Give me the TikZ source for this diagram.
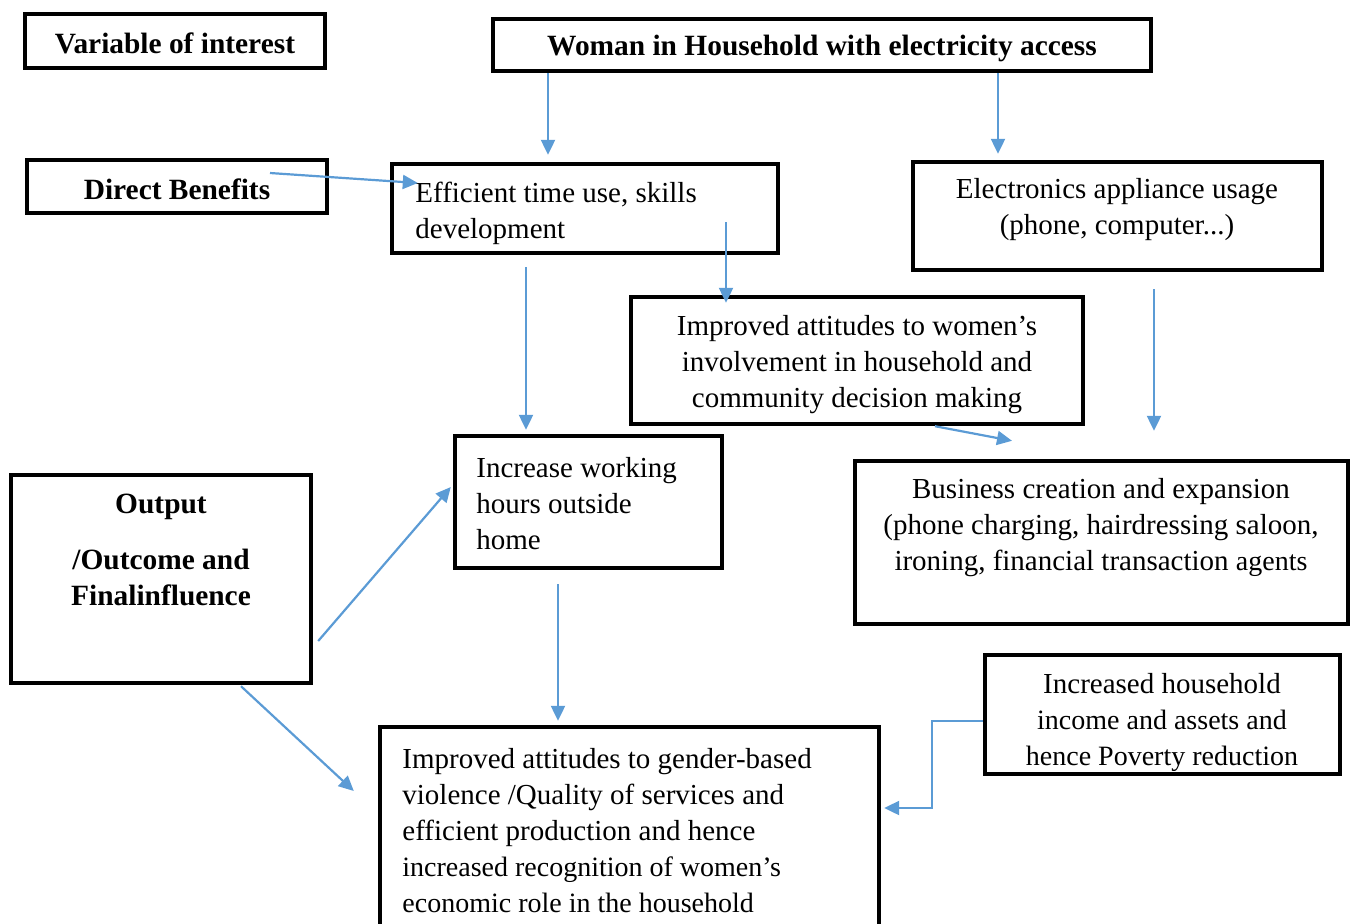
\documentclass[tikz,border=0pt]{standalone}
\usepackage{fontspec}
\setmainfont{Liberation Serif}
\usetikzlibrary{arrows.meta}
\definecolor{arrowblue}{RGB}{91,155,213}
\newcommand{\smalltext}{\fontsize{14}{18}\selectfont}
\begin{document}
\begin{tikzpicture}[x=0.5pt,y=-0.5pt,
  box/.style={draw=black, line width=2.2pt, rectangle, inner sep=0pt},
  txt/.style={inner sep=0pt, font=\fontsize{14.5}{18}\selectfont},
  boldtxt/.style={inner sep=0pt, font=\fontsize{14.7}{18}\selectfont\bfseries},
  link/.style={draw=arrowblue, line width=1.1pt, -{Triangle[length=7.5pt,width=7pt]}}]

\useasboundingbox (0,0) rectangle (1357,923);

% boxes
\node[box, minimum width=150pt, minimum height=27pt]   (var)    at (175,41) {};
\node[box, minimum width=329pt, minimum height=26pt]   (woman)  at (822,45) {};
\node[box, minimum width=150pt, minimum height=26.5pt] (direct) at (177,186.5) {};
\node[box, minimum width=193pt, minimum height=44.5pt] (eff)    at (585,208.5) {};
\node[box, minimum width=204.5pt, minimum height=54pt] (elec)   at (1117.5,216) {};
\node[box, minimum width=226pt, minimum height=63.5pt] (impw)   at (857,360.5) {};
\node[box, minimum width=133.5pt, minimum height=66pt] (inc)    at (588.5,502) {};
\node[box, minimum width=150pt, minimum height=104pt]  (out)    at (161,579) {};
\node[box, minimum width=246.5pt, minimum height=81.5pt] (bus)  at (1101.5,542.5) {};
\node[box, minimum width=177.5pt, minimum height=59.5pt] (hh)   at (1162.5,714.5) {};
\node[box, minimum width=249.5pt, minimum height=106.5pt] (gbv) at (629.5,833.5) {};

% texts
\node[boldtxt] (t-var)    at (175,43) {Variable of interest};
\node[boldtxt] (t-woman)  at (822,48) {Woman in Household with electricity access};
\node[boldtxt] (t-direct) at (177,189) {Direct Benefits};
\node[txt, align=left, anchor=west] (t-eff) at (415,213)
  {Efficient time use, skills\\development};
\node[txt, align=center] (t-elec) at (1117,210)
  {Electronics appliance usage\\(phone, computer...)};
\node[txt, align=center] (t-impw) at (857,365)
  {Improved attitudes to women’s\\involvement in household and\\community decision making};
\node[txt, align=left, anchor=west] (t-inc) at (476,504)
  {Increase working\\hours outside\\home};
\node[boldtxt, align=center] (t-out) at (161,550)
  {Output\\[10pt]/Outcome and\\Finalinfluence};
\node[txt, align=center] (t-bus) at (1101,528)
  {Business creation and expansion\\(phone charging, hairdressing saloon,\\ironing, financial transaction {\smalltext agents}};
\node[txt, align=center] (t-hh) at (1162,722)
  {Increased household\\{\smalltext income and assets and}\\{\smalltext hence Poverty reduction}};
\node[txt, align=left, anchor=west] (t-gbv) at (402,831)
  {Improved attitudes to gender-based\\violence /Quality of services and\\efficient production and hence\\{\smalltext increased recognition of women’s}\\{\smalltext economic role in the household}};

% connectors
\draw[link, shorten >=3.5pt] (woman.south -| 548,0) -- (eff.north -| 548,0);
\draw[link, shorten >=3pt]   (woman.south -| 998,0) -- (elec.north -| 998,0);
\draw[link] ([shift={(93,-13.5)}]direct.center) -- ([shift={(28,-25.5)}]eff.west);
\draw[link] ([shift={(141,13.5)}]eff.center) -- ([shift={(-131,8)}]impw.north);
\draw[link, shorten <=6pt, shorten >=2pt] (eff.south -| 526,0) -- (inc.north -| 526,0);
\draw[link, shorten <=8.5pt, shorten >=14pt] (elec.south -| 1154,0) -- (bus.north -| 1154,0);
\draw[link] (impw.south -| 935,0) -- ([shift={(-89.5,-18)}]bus.north);
\draw[link] ([shift={(5,62)}]out.east) -- ([shift={(-2,-15)}]inc.west);
\draw[link] ([shift={(80,1)}]out.south) -- ([shift={(-24,-42.5)}]gbv.west);
\draw[link, shorten <=7pt, shorten >=2pt] (inc.south -| 558,0) -- (gbv.north -| 558,0);
\draw[link, shorten >=1.5pt] (hh.west |- 0,721) -- (932,721) -- (932,808) -- (gbv.east |- 0,808);
\end{tikzpicture}
\end{document}
